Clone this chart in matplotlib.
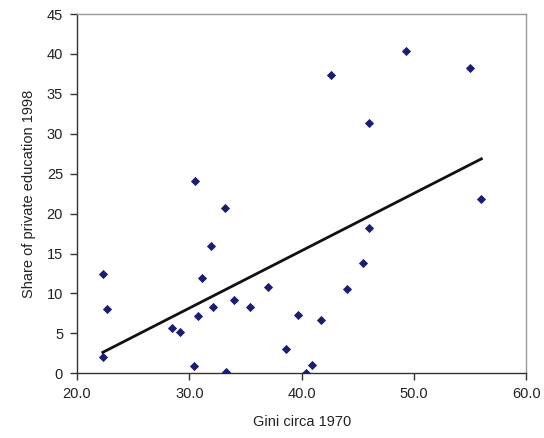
import matplotlib.pyplot as plt
import numpy as np

plt.rcParams['font.family'] = ['Liberation Sans', 'DejaVu Sans']

gini_1970 = [22.3, 22.7, 22.3, 28.5, 29.2, 30.4, 30.8, 31.1, 31.9, 32.1,
             33.2, 33.3, 34.0, 35.4, 37.0, 38.6, 39.7, 40.4, 40.9, 41.7,
             44.0, 45.5, 46.0, 56.0, 42.6, 49.3, 55.0, 46.0, 30.5]
private_share_1998 = [12.5, 8.0, 2.1, 5.7, 5.2, 0.9, 7.2, 11.9, 15.9, 8.3,
                      20.7, 0.2, 9.2, 8.3, 10.8, 3.1, 7.3, 0.05, 1.0, 6.7,
                      10.6, 13.8, 18.2, 21.8, 37.4, 40.4, 38.2, 31.3, 24.1]

x = np.array(gini_1970)
y = np.array(private_share_1998)

fig = plt.figure(figsize=(5.44, 4.38), dpi=100)
ax = fig.add_axes([0.1415, 0.1477, 0.826, 0.8203])

ax.scatter(x, y, marker='D', s=22, color='#1c1c72', zorder=3, linewidths=0)

slope, intercept = np.polyfit(x, y, 1)
xs = np.array([x.min(), x.max()])
ax.plot(xs, slope * xs + intercept, color='#111111', lw=2, zorder=2)

ax.set_xlim(20, 60)
ax.set_ylim(0, 45)
ax.set_xticks([20, 30, 40, 50, 60])
ax.set_xticklabels(['20.0', '30.0', '40.0', '50.0', '60.0'])
ax.set_yticks(range(0, 46, 5))

for s in ['top', 'right']:
    ax.spines[s].set_color('#999999')
    ax.spines[s].set_linewidth(1)
for s in ['left', 'bottom']:
    ax.spines[s].set_color('#333333')
    ax.spines[s].set_linewidth(1)

ax.tick_params(direction='out', length=5, width=1, color='#333333',
               labelsize=10.5, labelcolor='#222222', pad=5)

ax.set_xlabel('Gini circa 1970', fontsize=10.5, color='#222222', labelpad=10)
ax.set_ylabel('Share of private education 1998', fontsize=10.5, color='#222222', labelpad=8)

fig.savefig('out.png', dpi=100)
plt.close()
